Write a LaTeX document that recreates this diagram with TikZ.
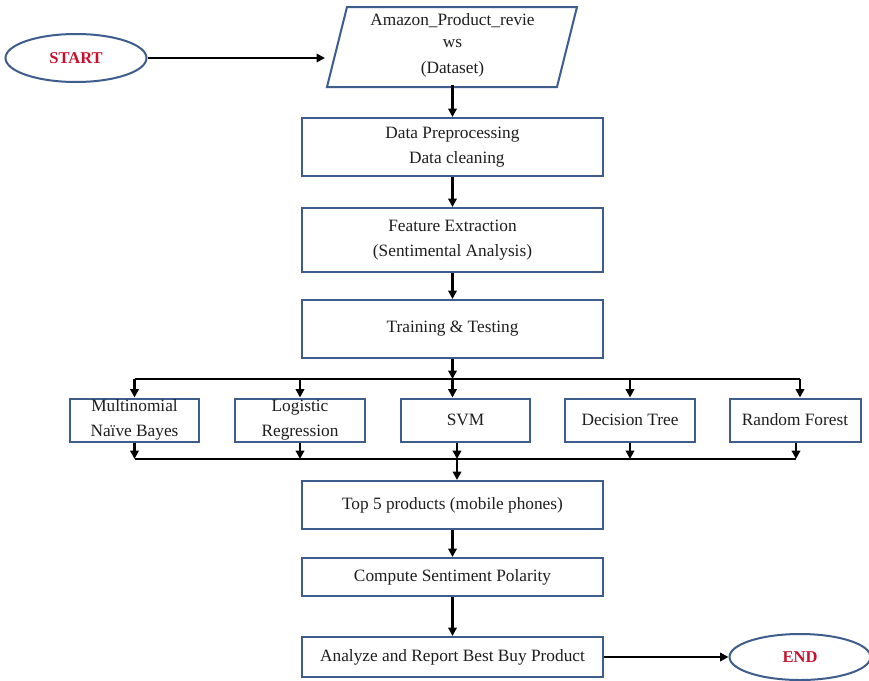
\documentclass[tikz,border=0pt]{standalone}
\usepackage{fontspec}
\setmainfont{Liberation Serif}
\usetikzlibrary{arrows.meta,shapes.geometric}
\definecolor{boxblue}{HTML}{3E5D8C}
\definecolor{txt}{HTML}{1E1E1E}
\definecolor{startred}{HTML}{C8102E}
\begin{document}
\begin{tikzpicture}[x=1pt,y=-1pt,
  boxline/.style={draw=boxblue,line width=2pt},
  procbox/.style={boxline,rectangle,minimum width=301pt,inner sep=0pt,align=center,
    text=txt,font=\fontsize{17.3}{25}\selectfont},
  algbox/.style={boxline,rectangle,minimum height=43pt,inner sep=0pt,align=center,
    text=txt,font=\fontsize{17.3}{25}\selectfont},
  term/.style={ellipse,boxline,minimum width=141pt,minimum height=48pt,inner sep=0pt,
    text=startred,font=\fontsize{16.5}{18}\selectfont\bfseries},
  arr/.style={draw=black,line width=2.3pt,-{Triangle[length=8.5pt,width=8.5pt]}},
  busline/.style={draw=black,line width=2.3pt}]
\useasboundingbox (0,0) rectangle (869,680);
\fill[white] (0,0) rectangle (869,680);

% terminals
\node[term] (start) at (76,58) {START};
\node[term,minimum height=46pt] (end) at (800,657) {END};

% dataset parallelogram
\draw[boxline] (347,7) -- (577,7) -- (557,87) -- (327,87) -- cycle;
\node[rectangle,minimum width=210pt,minimum height=80pt,inner sep=0pt,align=center,
  text=txt,font=\fontsize{17.3}{22}\selectfont] (data) at (452.5,45)
  {Amazon\_Product\_revie\\ws\\[4pt](Dataset)};
\coordinate (dataL) at (325,58);

% process boxes
\node[procbox,minimum height=58pt] (prep) at (452.5,147) {Data Preprocessing\\\ \ Data cleaning};
\node[procbox,minimum height=64pt] (feat) at (452.5,240) {Feature Extraction\\(Sentimental Analysis)};
\node[procbox,minimum height=58pt] (train) at (452.5,329) {Training \& Testing};
\node[procbox,minimum height=48pt] (top5) at (452.5,505) {Top 5 products (mobile phones)};
\node[procbox,minimum height=38pt] (comp) at (452.5,577) {Compute Sentiment Polarity};
\node[procbox,minimum height=40pt] (anal) at (452.5,657) {Analyze and Report Best Buy Product};

% algorithm boxes
\node[algbox,minimum width=129pt] (mnb) at (134.5,420) {Multinomial\\Naïve Bayes};
\node[algbox,minimum width=130pt] (lr) at (300,420) {Logistic\\Regression};
\node[algbox,minimum width=129pt] (svm) at (465.5,420) {SVM};
\node[algbox,minimum width=130pt] (dt) at (630,420) {Decision Tree};
\node[algbox,minimum width=131pt] (rf) at (795,420) {Random Forest};

% bus coordinates
\coordinate (bt) at (452.5,379);
\coordinate (btl) at (134.5,379);
\coordinate (btr) at (800,379);
\coordinate (bb) at (457,459);
\coordinate (bbl) at (134.5,459);
\coordinate (bbr) at (796,459);

% connectors
\draw[arr] (start.east) -- (dataL);
\draw[arr] (data.south) -- (prep.north);
\draw[arr] (prep.south) -- (feat.north);
\draw[arr] (feat.south) -- (train.north);
\draw[arr] (train.south) -- (bt);
\draw[busline] (btl) -- (btr);
\draw[arr] (btl) -- (mnb.north);
\draw[arr] (lr.north |- bt) -- (lr.north);
\draw[arr] (bt) -- (bt |- svm.north);
\draw[arr] (dt.north |- bt) -- (dt.north);
\draw[arr] (btr) -- (btr |- rf.north);
\draw[arr] (mnb.south) -- (bbl);
\draw[arr] (lr.south) -- (lr.south |- bb);
\draw[arr] (svm.south -| bb) -- (bb);
\draw[arr] (dt.south) -- (dt.south |- bb);
\draw[arr] (rf.south -| bbr) -- (bbr);
\draw[busline] (bbl) -- (bbr);
\draw[arr] (bb) -- (bb |- top5.north);
\draw[arr] (top5.south) -- (comp.north);
\draw[arr] (comp.south) -- (anal.north);
\draw[arr] (anal.east) -- (end.west);
\end{tikzpicture}
\end{document}
